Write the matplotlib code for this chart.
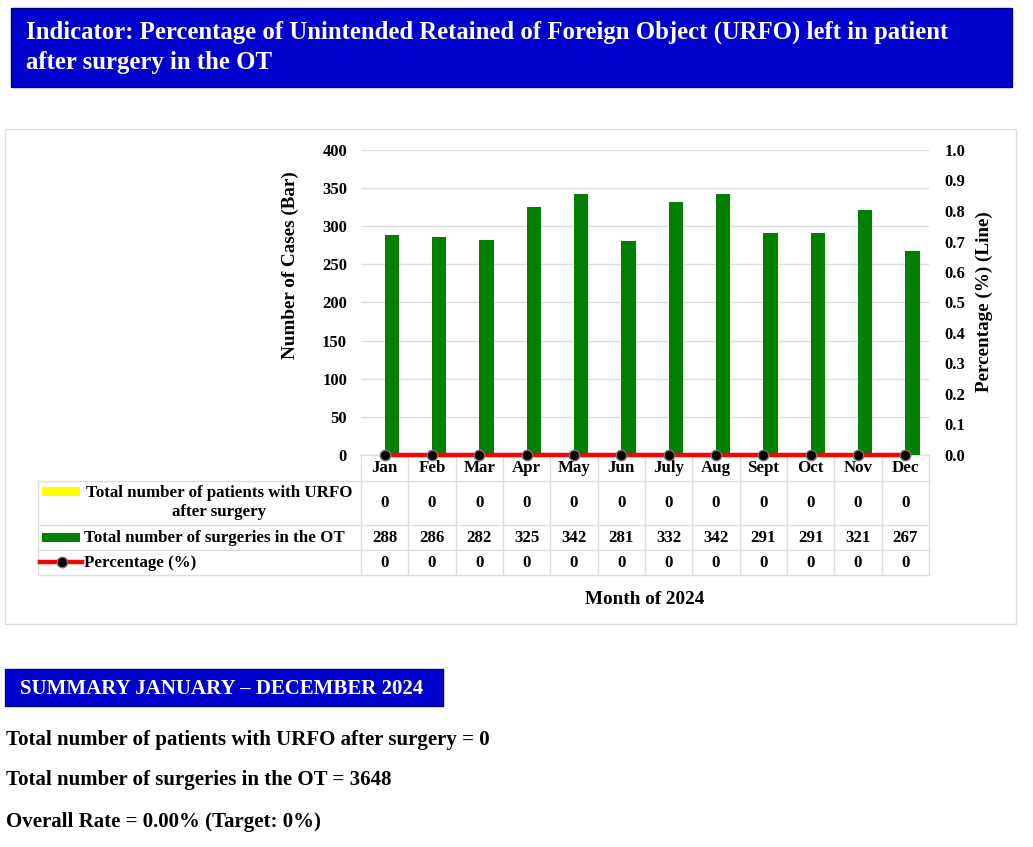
import matplotlib.pyplot as plt
from matplotlib.patches import Rectangle
import numpy as np

plt.rcParams['font.family'] = ['Liberation Serif', 'DejaVu Serif']
plt.rcParams['font.weight'] = 'bold'
plt.rcParams['axes.labelweight'] = 'bold'

# Data
months = ['Jan', 'Feb', 'Mar', 'Apr', 'May', 'Jun', 'July', 'Aug', 'Sept', 'Oct', 'Nov', 'Dec']
urfo_patients = [0, 0, 0, 0, 0, 0, 0, 0, 0, 0, 0, 0]
surgeries = [288, 286, 282, 325, 342, 281, 332, 342, 291, 291, 321, 267]
percentage = [0, 0, 0, 0, 0, 0, 0, 0, 0, 0, 0, 0]
target = 0

W, H = 1033, 847
fig = plt.figure(figsize=(W / 100, H / 100), dpi=100)

# background layer in pixel coordinates
bg = fig.add_axes([0, 0, 1, 1], zorder=0)
bg.set_xlim(0, W)
bg.set_ylim(H, 0)
bg.axis('off')

BLUE = '#0000CD'
GRID = '#dddddd'

# title box
bg.add_patch(Rectangle((11, 8), 1001, 79, facecolor=BLUE, edgecolor='#000080', lw=1))
bg.text(26, 32, 'Indicator: Percentage of Unintended Retained of Foreign Object (URFO) left in patient',
        color='white', fontsize=17.8, va='center', ha='left')
bg.text(26, 62, 'after surgery in the OT', color='white', fontsize=17.8, va='center', ha='left')

# chart container
bg.add_patch(Rectangle((5, 129), 1011, 495, facecolor='none', edgecolor=GRID, lw=1))

# plot area (pixels)
L, R, T, B = 361, 929, 150, 455
ax = fig.add_axes([L / W, 1 - B / H, (R - L) / W, (B - T) / H], zorder=2)
ax.patch.set_alpha(0)
x = np.arange(len(months))
bw = 0.3
ax.bar(x - bw / 2, urfo_patients, bw, color='yellow', zorder=2)
ax.bar(x + bw / 2, surgeries, bw, color='green', zorder=2)
ax.set_xlim(-0.5, len(months) - 0.5)
ax.set_ylim(0, 400)
ax.set_yticks(range(0, 401, 50))
ax.yaxis.grid(True, color=GRID, lw=1)
ax.set_axisbelow(True)
ax.set_xticks([])
ax.tick_params(axis='y', length=0, pad=10, labelsize=12)
for s in ax.spines.values():
    s.set_visible(False)
ax.set_ylabel('Number of Cases (Bar)', fontsize=13.8)
ax.yaxis.set_label_coords((299 - L) / (R - L), (B - 265) / (B - T))

ax2 = ax.twinx()
ax2.plot(x, percentage, color='red', lw=3.2, marker='o', markersize=7.5,
         markerfacecolor='black', markeredgecolor='#777777', markeredgewidth=1, clip_on=False, zorder=5)
ax2.set_ylim(0, 1.0)
ax2.set_yticks(np.arange(0, 1.01, 0.1))
ax2.set_yticklabels([f'{v:.1f}' for v in np.arange(0, 1.01, 0.1)])
ax2.tick_params(axis='y', length=0, pad=11, labelsize=12)
for s in ax2.spines.values():
    s.set_visible(False)
ax2.set_ylabel('Percentage (%) (Line)', fontsize=13.8)
ax2.yaxis.set_label_coords((976 - L) / (R - L), (B - 302) / (B - T))

# data table
colw = (R - L) / len(months)
rows_y = [455, 481, 525, 550, 575]
TL = 38
for i in range(len(months) + 1):
    bg.plot([L + i * colw] * 2, [455, 575], color=GRID, lw=1)
bg.plot([TL, TL], [481, 575], color=GRID, lw=1)
bg.plot([L, R], [455, 455], color=GRID, lw=1)
for yy in rows_y[1:]:
    bg.plot([TL, R], [yy, yy], color=GRID, lw=1)

fs = 12.2
for i, m in enumerate(months):
    cx = L + (i + 0.5) * colw
    bg.text(cx, 468, m, ha='center', va='center', fontsize=fs)
    bg.text(cx, 503, str(urfo_patients[i]), ha='center', va='center', fontsize=fs)
    bg.text(cx, 538, str(surgeries[i]), ha='center', va='center', fontsize=fs)
    bg.text(cx, 563, str(percentage[i]), ha='center', va='center', fontsize=fs)

# legend keys in row headers
bg.add_patch(Rectangle((42, 487), 38, 9, facecolor='yellow', edgecolor='none'))
bg.text(219, 493, 'Total number of patients with URFO', ha='center', va='center', fontsize=fs)
bg.text(219, 512, 'after surgery', ha='center', va='center', fontsize=fs)
bg.add_patch(Rectangle((42, 533), 38, 9, facecolor='green', edgecolor='none'))
bg.text(84, 538, 'Total number of surgeries in the OT', ha='left', va='center', fontsize=fs)
bg.plot([40, 82], [562, 562], color='red', lw=3.2)
bg.plot([62], [562], marker='o', markersize=7.5, markerfacecolor='black', markeredgecolor='#777777')
bg.text(84, 563, 'Percentage (%)', ha='left', va='center', fontsize=fs)

bg.text((L + R) / 2, 599, 'Month of 2024', ha='center', va='center', fontsize=13.8)

# summary
total_urfo = sum(urfo_patients)
total_surg = sum(surgeries)
rate = total_urfo / total_surg * 100
bg.add_patch(Rectangle((5, 669), 438, 37, facecolor=BLUE, edgecolor='#000080', lw=1))
bg.text(20, 689, 'SUMMARY JANUARY \u2013 DECEMBER 2024', color='white', fontsize=15, va='center', ha='left')
bg.text(6, 740, f'Total number of patients with URFO after surgery = {total_urfo}',
        fontsize=15, va='center', ha='left')
bg.text(6, 780, f'Total number of surgeries in the OT = {total_surg}', fontsize=15, va='center', ha='left')
bg.text(6, 822, f'Overall Rate = {rate:.2f}% (Target: {target}%)', fontsize=15, va='center', ha='left')

fig.savefig('out.png', dpi=100)
